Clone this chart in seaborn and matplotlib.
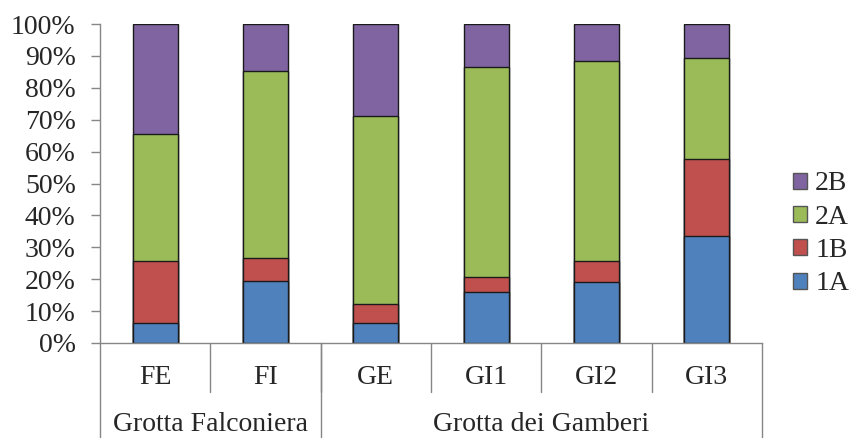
import numpy as np
import pandas as pd
import matplotlib
matplotlib.use("Agg")
import matplotlib.pyplot as plt
import seaborn as sns
from matplotlib.patches import Patch

# data (percent of each site)
sites = ["FE", "FI", "GE", "GI1", "GI2", "GI3"]
groups = ["Grotta Falconiera", "Grotta dei Gamberi"]
group_sizes = [2, 4]
v_1A = [6.3, 19.3, 6.2, 15.9, 19.2, 33.6]
v_1B = [19.4, 7.4, 6.1, 4.9, 6.4, 24.0]
v_2A = [39.7, 58.7, 59.0, 65.7, 62.8, 31.8]
v_2B = [34.6, 14.6, 28.7, 13.5, 11.6, 10.6]

types = ["1A", "1B", "2A", "2B"]
colors = {"1A": "#4F81BD", "1B": "#C0504D", "2A": "#9BBB59", "2B": "#8064A2"}

df = pd.DataFrame({"site": sites, "1A": v_1A, "1B": v_1B, "2A": v_2A, "2B": v_2B})
cum = df[types].cumsum(axis=1)

sns.set_style("white")
plt.rcParams["font.family"] = ["Liberation Serif", "DejaVu Serif"]
FS = 20

fig = plt.figure(figsize=(8.5, 4.38), dpi=100)
ax = fig.add_axes([100 / 850, 95 / 438, 662 / 850, 319 / 438])

# draw tallest first so the smaller stacks sit on top
for t in types[::-1]:
    sns.barplot(x=df["site"], y=cum[t], color=colors[t], width=0.41,
                edgecolor="#1a1a1a", linewidth=1.0, saturation=1, ax=ax, zorder=2)

ax.set_xlim(-0.5, 5.5)
ax.set_ylim(0, 100)
ax.set_yticks(np.arange(0, 101, 10))
ax.set_yticklabels([f"{v}%" for v in range(0, 101, 10)], fontsize=FS)
ax.set_xticks([])
ax.set_xlabel("")
ax.set_ylabel("")
for s in ["top", "right"]:
    ax.spines[s].set_visible(False)
for s in ["left", "bottom"]:
    ax.spines[s].set_color("#868686")
    ax.spines[s].set_linewidth(1.0)
ax.tick_params(axis="y", length=6.5, color="#868686", width=1, pad=11, left=True)

trans = ax.get_xaxis_transform()
# category labels and separators
for i, s in enumerate(sites):
    ax.text(i, -0.107, s, transform=trans, ha="center", va="center", fontsize=FS)
for xb in np.arange(0.5, 5.5, 1.0):
    ax.plot([xb, xb], [0, -0.154], transform=trans, color="#868686", lw=1, clip_on=False)

# group labels and separators
edges = np.concatenate([[0], np.cumsum(group_sizes)]) - 0.5
for xb in edges:
    ax.plot([xb, xb], [0, -0.30], transform=trans, color="#868686", lw=1, clip_on=False)
for g, a, b in zip(groups, edges[:-1], edges[1:]):
    ax.text((a + b) / 2, -0.255, g, transform=trans, ha="center", va="center", fontsize=FS)

handles = [Patch(facecolor=colors[t], edgecolor="#555555", label=t) for t in types[::-1]]
fig.legend(handles=handles, loc="center left", bbox_to_anchor=(793 / 850, 1 - 234 / 438),
           frameon=False, fontsize=FS, handlelength=0.5, handleheight=0.5,
           handletextpad=0.3, labelspacing=0.3, borderaxespad=0, borderpad=0)

fig.savefig("out.png", dpi=100)
